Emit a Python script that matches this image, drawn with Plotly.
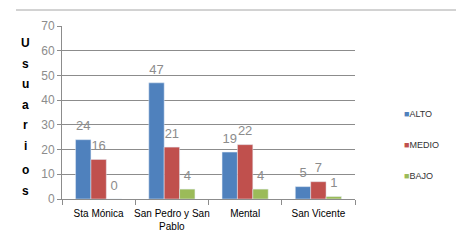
import plotly.graph_objects as go

categories = ["Sta Mónica", "San Pedro y San<br>Pablo", "Mental", "San Vicente"]
alto = [24, 47, 19, 5]
medio = [16, 21, 22, 7]
bajo = [0, 4, 4, 1]
series_names = ["ALTO", "MEDIO", "BAJO"]
colors = ["#4F81BD", "#C0504D", "#9BBB59"]
ytitle = "Usuarios"

fig = go.Figure()
for name, vals, col in zip(series_names, [alto, medio, bajo], colors):
    fig.add_trace(go.Bar(
        x=categories, y=vals, name=name, marker_color=col,
        text=[str(v) for v in vals], textposition="outside",
        texttemplate="<span style='font-size:13px'>%{text}</span><br> ",
        textfont=dict(color="#8C8C8C", size=4, family="Liberation Sans"),
        cliponaxis=False, showlegend=False,
    ))

OFF = 8  # page body margin
W, H = 467 - OFF, 245 - OFF
# plot area in window pixels: x 62..355, y 26..199
L, T = 62 - OFF, 26 - OFF
R = W - (355 - OFF)
B = H - (199 - OFF)
pw = W - L - R
ph = H - T - B

def px(x):
    return (x - OFF - L) / pw

def py(y):
    return (H - B - (y - OFF)) / ph

fig.update_layout(
    width=W, height=H,
    margin=dict(l=L, r=R, t=T, b=B, autoexpand=False),
    paper_bgcolor="white", plot_bgcolor="white",
    barmode="group", bargap=0.37, bargroupgap=0,
    font=dict(family="Liberation Sans", size=10, color="black"),
    showlegend=False,
    uniformtext=dict(mode=False),
)
fig.update_xaxes(
    showline=True, linecolor="#8C8C8C", linewidth=1,
    ticks="outside", tickson="boundaries", ticklen=5, tickcolor="#8C8C8C",
    tickfont=dict(size=10, color="black"), showgrid=False, tickangle=0,
    automargin=False, ticklabelstandoff=5,
)
fig.update_yaxes(
    range=[0, 70], dtick=10, showgrid=True, gridcolor="#8C8C8C", gridwidth=1,
    showline=True, linecolor="#8C8C8C", ticks="outside", ticklen=4, tickcolor="#8C8C8C",
    tickfont=dict(size=12, color="#8C8C8C"), zeroline=False, automargin=False,
)
# vertical stacked y-axis title, one letter per line
letter_y = [43, 64, 84, 105, 125, 146, 170, 191]
for ch, yy in zip(ytitle, letter_y):
    fig.add_annotation(
        text=f"<b>{ch}</b>", xref="paper", yref="paper",
        x=px(25), y=py(yy), xanchor="center", yanchor="middle",
        showarrow=False, font=dict(size=12, color="black", family="Liberation Sans"),
    )
# legend
legend_y = [114, 145, 176]
for name, col, yy in zip(series_names, colors, legend_y):
    fig.add_annotation(
        text=f'<span style="color:{col}">■</span>{name}', xref="paper", yref="paper",
        x=px(402), y=py(yy), xanchor="left", yanchor="middle",
        showarrow=False, font=dict(size=9, color="#333333", family="Liberation Sans"),
    )
# top border line
fig.add_shape(type="line", xref="paper", yref="paper",
              x0=px(16), x1=px(456), y0=py(10), y1=py(10),
              line=dict(color="#A6A6A6", width=1))

fig.write_html("out.html")
